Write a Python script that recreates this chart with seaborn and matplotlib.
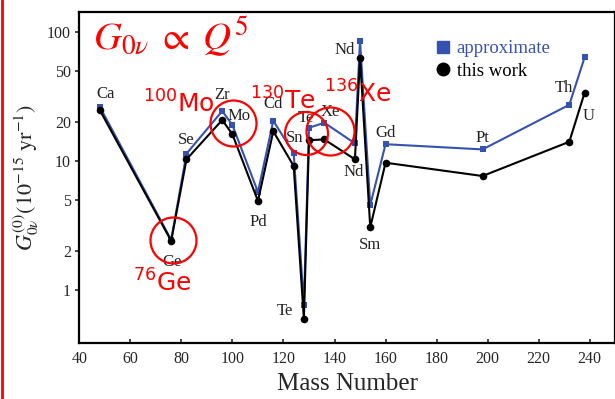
import numpy as np
import pandas as pd
import matplotlib
matplotlib.use("Agg")
import matplotlib.pyplot as plt
import matplotlib.transforms as mtransforms
from matplotlib.lines import Line2D
import seaborn as sns

# ---------------- data ----------------
elements = ['Ca', 'Ge', 'Se', 'Zr', 'Mo', 'Pd', 'Cd', 'Sn', 'Te', 'Te',
            'Xe', 'Nd', 'Nd', 'Sm', 'Gd', 'Pt', 'Th', 'U']
mass = [48, 76, 82, 96, 100, 110, 116, 124, 128, 130,
        136, 148, 150, 154, 160, 198, 232, 238]
approximate = [26.4, 2.45, 11.4, 24.4, 19.0, 5.75, 20.5, 11.5, 0.765, 18.1,
               19.8, 13.7, 85.7, 4.56, 13.5, 12.3, 27.3, 63.7]
this_work = [24.9, 2.40, 10.3, 20.8, 16.1, 4.90, 17.0, 9.15, 0.596, 14.5,
             14.7, 10.3, 63.2, 3.06, 9.7, 7.65, 14.1, 33.9]
series_names = ['approximate', 'this work']
x_ticks = [40, 60, 80, 100, 120, 140, 160, 180, 200, 220, 240]
y_ticks = [1, 2, 5, 10, 20, 50, 100]
y_ticklabels = ['1', '2', '5', '10', '20', '50', '100']

# label placement: (anchor series, dx px, dy px  [dy>0 = down])
label_pos = [('a', 5.5, -12.7), ('w', 1, 21), ('a', 0, -14), ('a', 0, -16.5),
             ('a', 7, -9), ('w', 0.5, 21.5), ('a', 0, -17), ('a', 1, -15.5),
             ('w', -18.5, -8), ('a', -3, -10), ('a', 6.5, -11), ('w', -1, 12.5),
             ('a', -15, 9.5), ('w', 0, 18), ('a', 0, -11.5), ('a', 0, -11),
             ('a', -5, -17), ('w', 4, 23)]

# highlighted nuclei (red circles)
highlight_idx = [1, 4, 9, 10]
highlight_text = [r'$^{76}$Ge', r'$^{100}$Mo', r'$^{130}$Te', r'$^{136}$Xe']

BLUE = '#3652b0'

df = pd.DataFrame({
    'A': mass * 2,
    'G': approximate + this_work,
    'series': [series_names[0]] * len(mass) + [series_names[1]] * len(mass),
})

sns.set_style('ticks')
plt.rcParams['font.family'] = ['Liberation Serif', 'DejaVu Serif']
plt.rcParams['mathtext.fontset'] = 'stix'

fig = plt.figure(figsize=(6.15, 3.99), dpi=100)
ax = fig.add_axes([79.3 / 615, 1 - 343 / 399, (615 - 79.3) / 615, (343 - 12.3) / 399])

sns.lineplot(data=df[df.series == 'approximate'], x='A', y='G', ax=ax,
             color=BLUE, lw=1.5, marker='s', markersize=5, markeredgewidth=0,
             estimator=None, sort=True, legend=False, zorder=3)
sns.lineplot(data=df[df.series == 'this work'], x='A', y='G', ax=ax,
             color='black', lw=1.5, marker='o', markersize=5.5, markeredgewidth=0,
             estimator=None, sort=True, legend=False, zorder=4)

ax.set_yscale('log')
ax.set_xlim(40, 249.9)
ax.set_ylim(10 ** -0.411, 10 ** 2.153)
ax.set_xticks(x_ticks)
ax.set_xticklabels([str(t) for t in x_ticks])
ax.set_yticks(y_ticks)
ax.set_yticklabels(y_ticklabels)
ax.yaxis.set_minor_locator(matplotlib.ticker.NullLocator())
ax.tick_params(axis='x', direction='in', length=3, width=1.2, labelsize=11.5, pad=6)
ax.tick_params(axis='y', direction='out', length=3, width=1.2, labelsize=11.5, pad=3)
for s in ax.spines.values():
    s.set_linewidth(1.6)
    s.set_color('black')

ax.set_xlabel('Mass Number', fontsize=18, labelpad=4)
ax.set_ylabel(r'$G^{(0)}_{0\nu}(10^{-15}\ \mathrm{yr}^{-1})$', fontsize=16, labelpad=4)

# element labels
for i, (name, (which, dx, dy)) in enumerate(zip(elements, label_pos)):
    yv = approximate[i] if which == 'a' else this_work[i]
    ax.annotate(name, xy=(mass[i], yv), xytext=(dx * 0.72, -dy * 0.72),
                textcoords='offset points', ha='center', va='center',
                fontsize=12, color='#222222', zorder=5)

# legend
handles = [Line2D([], [], marker='s', color=BLUE, ls='none', markersize=8),
           Line2D([], [], marker='o', color='black', ls='none', markersize=9)]
leg = ax.legend(handles, series_names, loc='upper left',
                bbox_to_anchor=(436 / 615, 1 - 40 / 399), bbox_transform=fig.transFigure,
                frameon=False, fontsize=13.5, handlelength=0.7, handletextpad=0.4,
                borderpad=0, borderaxespad=0, labelspacing=0.3)
leg.get_texts()[0].set_color(BLUE)
leg.get_texts()[1].set_color('black')

# red circles around highlighted nuclei
circ_off = [(2, -1, 'w', 23), (0.5, -2, 'a', 23), (-2.5, 5.3, 'a', 21.5), (5.5, 8.3, 'a', 24)]
for idx, (dx, dy, which, r) in zip(highlight_idx, circ_off):
    yv = approximate[idx] if which == 'a' else this_work[idx]
    tr = ax.transData + mtransforms.ScaledTranslation(dx / 100, -dy / 100, fig.dpi_scale_trans)
    ax.plot([mass[idx]], [yv], marker='o', markersize=2 * r * 0.72, markerfacecolor='none',
            markeredgecolor='red', markeredgewidth=1.6, transform=tr, zorder=6, clip_on=False)

# red text annotations (figure pixel positions: left, baseline)
red_pos = [(133, 292), (143, 113), (250, 110), (324, 103)]
for txt, (px, py) in zip(highlight_text, red_pos):
    fig.text(px / 615, 1 - py / 399, txt, color='red', fontsize=18,
             family='DejaVu Sans', math_fontfamily='dejavusans',
             ha='left', va='baseline', zorder=7)

fig.text(93 / 615, 1 - 50 / 399, r'$G_{0\nu}\;\propto\;Q^5$', color='red', fontsize=28,
         ha='left', va='baseline')

fig.add_artist(Line2D([1.5 / 615, 1.5 / 615], [0, 1], color='red', lw=2,
                      transform=fig.transFigure))

fig.savefig('out.png', dpi=100)
